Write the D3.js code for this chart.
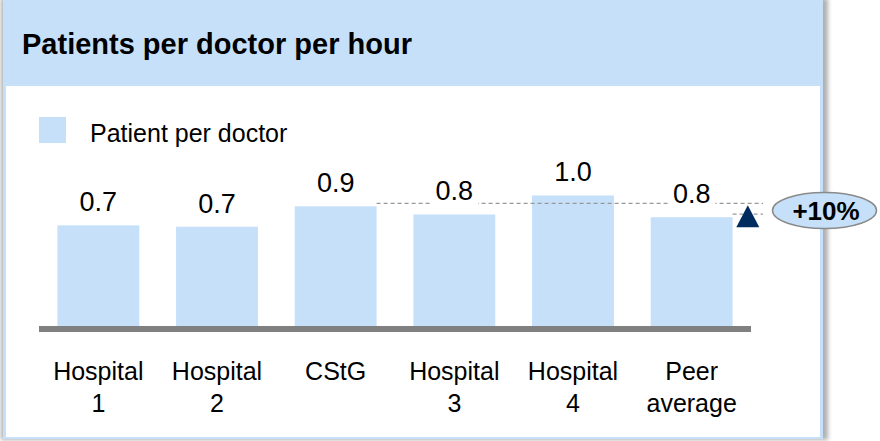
<!DOCTYPE html>
<html lang="en">
<head>
    <meta charset="UTF-8">
    <title>Patients per doctor per hour</title>
    <style>
        html, body { margin: 0; padding: 0; background: #fff; }
        svg { display: block; font-family: "Liberation Sans", Arial, sans-serif; }
    </style>
</head>
<body>
    <svg id="main-svg" width="880" height="441"></svg>

    <script src="https://cdn.jsdelivr.net/npm/d3@7"></script>
    <script>
        // chart data
        const categories = ['Hospital 1', 'Hospital 2', 'CStG', 'Hospital 3', 'Hospital 4', 'Peer average'];
        const catLines = [['Hospital', '1'], ['Hospital', '2'], ['CStG'], ['Hospital', '3'], ['Hospital', '4'], ['Peer', 'average']];
        const patients = [0.74, 0.73, 0.88, 0.82, 0.96, 0.80];
        const seriesName = 'Patient per doctor';
        const title = 'Patients per doctor per hour';

        const blue = '#c6e0fa';
        const svg = d3.select('#main-svg');

        // panel + shadow
        let defs = svg.append('defs');
        defs.append('filter').attr('id', 'shadow')
            .attr('x', '-5%').attr('y', '-5%').attr('width', '110%').attr('height', '110%')
            .append('feGaussianBlur').attr('stdDeviation', 2);

        svg.append('rect')
            .attr('x', 1).attr('y', -2).attr('width', 827).attr('height', 442)
            .attr('fill', '#b0b0b0').attr('filter', 'url(#shadow)');
        svg.append('rect')
            .attr('x', 3).attr('y', 0).attr('width', 820).attr('height', 439)
            .attr('fill', blue);
        svg.append('rect')
            .attr('x', 6).attr('y', 86).attr('width', 814).attr('height', 351)
            .attr('fill', '#fff');

        svg.append('text')
            .attr('x', 22).attr('y', 54)
            .attr('font-size', 29).attr('font-weight', 'bold')
            .text(title);

        // legend
        svg.append('rect')
            .attr('x', 39).attr('y', 117).attr('width', 27).attr('height', 26)
            .attr('fill', blue);
        svg.append('text')
            .attr('x', 90).attr('y', 142)
            .attr('font-size', 25)
            .text(seriesName);

        // scales
        let x = d3.scaleBand()
            .domain(categories)
            .range([39, 751])
            .paddingInner(0.31)
            .paddingOuter(0.155);

        let y = d3.scaleLinear()
            .domain([0, 1])
            .range([326, 190]);

        // bars
        svg.append('g').selectAll('rect')
            .data(patients)
            .enter()
            .append('rect')
            .attr('x', (d, i) => x(categories[i]))
            .attr('y', d => y(d))
            .attr('width', x.bandwidth())
            .attr('height', d => y(0) - y(d))
            .attr('fill', blue);

        // baseline
        svg.append('line')
            .attr('x1', 39).attr('x2', 751)
            .attr('y1', y(0) + 3).attr('y2', y(0) + 3)
            .attr('stroke', '#808080').attr('stroke-width', 6);

        // comparison lines (CStG vs peer average)
        const iC = categories.indexOf('CStG');
        const iP = categories.indexOf('Peer average');
        const endX = 763;
        let cmp = svg.append('g');
        cmp.append('line')
            .attr('x1', x(categories[iC]) + x.bandwidth()).attr('x2', endX)
            .attr('y1', y(patients[iC]) - 3).attr('y2', y(patients[iC]) - 3);
        cmp.append('line')
            .attr('x1', x(categories[iP]) + x.bandwidth()).attr('x2', endX)
            .attr('y1', y(patients[iP]) - 3).attr('y2', y(patients[iP]) - 3);
        cmp.selectAll('line')
            .attr('stroke', '#999').attr('stroke-width', 1.2)
            .attr('stroke-dasharray', '4,3');

        // value labels with white knock-out behind them
        let fmt = d3.format('.1f');
        let lbl = svg.append('g');
        let texts = lbl.selectAll('text')
            .data(patients)
            .enter()
            .append('text')
            .attr('x', (d, i) => x(categories[i]) + x.bandwidth() / 2)
            .attr('y', d => y(d) - 14)
            .attr('text-anchor', 'middle')
            .attr('font-size', 27)
            .text(d => fmt(d));
        texts.each(function () {
            let b = this.getBBox();
            lbl.insert('rect', 'text')
                .attr('x', b.x - 5).attr('y', b.y)
                .attr('width', b.width + 10).attr('height', b.height)
                .attr('fill', '#fff');
        });

        // triangle marker
        let tx = (x(categories[iP]) + x.bandwidth() + endX) / 2;
        let ty = y(patients[iC]) - 1;
        svg.append('path')
            .attr('d', d3.line()([[tx, ty], [tx + 11.5, ty + 22], [tx - 11.5, ty + 22]]) + 'Z')
            .attr('fill', '#002b5f');

        // delta bubble
        let delta = patients[iC] / patients[iP] - 1;
        svg.append('ellipse')
            .attr('cx', 824.5).attr('cy', 210.5)
            .attr('rx', 52).attr('ry', 18)
            .attr('fill', blue)
            .attr('stroke', '#8a8a8a').attr('stroke-width', 1.5);
        svg.append('text')
            .attr('x', 826).attr('y', 220)
            .attr('text-anchor', 'middle')
            .attr('font-size', 26).attr('font-weight', 'bold')
            .text(d3.format('+.0%')(delta));

        // category labels
        svg.append('g').selectAll('text')
            .data(catLines)
            .enter()
            .append('text')
            .attr('x', (d, i) => x(categories[i]) + x.bandwidth() / 2)
            .attr('y', 380)
            .attr('text-anchor', 'middle')
            .attr('font-size', 25)
            .each(function (d) {
                d3.select(this).selectAll('tspan')
                    .data(d)
                    .enter()
                    .append('tspan')
                    .attr('x', d3.select(this).attr('x'))
                    .attr('dy', (t, j) => j === 0 ? 0 : 32)
                    .text(t => t);
            });
    </script>
</body>
</html>
